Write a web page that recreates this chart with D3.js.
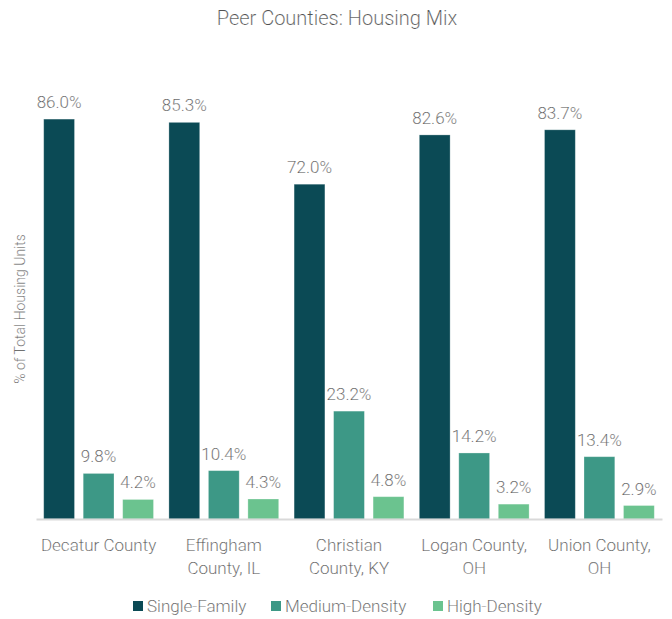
<!DOCTYPE html>
<html>
<head>
<meta charset="utf-8">
<script src="https://cdn.jsdelivr.net/npm/d3@7"></script>
<style>
  html, body { margin: 0; padding: 0; background: #fff; }
  svg { display: block; font-family: "Roboto Light", Roboto, "Open Sans", sans-serif; font-weight: 300; }
  /* thin the regular face slightly so labels read as a lighter weight */
  svg text { stroke: #ffffff; stroke-width: 0.2px; }
</style>
</head>
<body>
<svg id="chart" width="672" height="619"></svg>
<script>
// Housing mix by peer county, share of total housing units (%)
const counties = [
  ["Decatur County"],
  ["Effingham", "County, IL"],
  ["Christian", "County, KY"],
  ["Logan County,", "OH"],
  ["Union County,", "OH"]
];
const seriesNames = ["Single-Family", "Medium-Density", "High-Density"];
const singleFamily  = [86.0, 85.3, 72.0, 82.6, 83.7];
const mediumDensity = [9.8, 10.4, 23.2, 14.2, 13.4];
const highDensity   = [4.2, 4.3, 4.8, 3.2, 2.9];
const colors = ["#0b4a55", "#3d9886", "#6bc38f"];

const svg = d3.select("#chart");
const margin = { top: 54, right: 10, bottom: 100, left: 36 };
const width = 672, height = 619;
const plotW = width - margin.left - margin.right;
const plotH = height - margin.top - margin.bottom;
const textColor = "#505050";

const series = [singleFamily, mediumDensity, highDensity];
const rows = counties.map((c, i) => ({
  name: c.join(" "),
  lines: c,
  values: series.map((s, k) => ({ key: seriesNames[k], value: s[i], k }))
}));

const x0 = d3.scaleBand().domain(rows.map(d => d.name)).range([0, plotW]).padding(0);
const x1 = d3.scaleBand().domain(seriesNames).range([0, x0.bandwidth()])
  .paddingInner(0.22).paddingOuter(0.195);
const y = d3.scaleLinear().domain([0, 100]).range([plotH, 0]);

const g = svg.append("g").attr("transform", `translate(${margin.left},${margin.top})`);

// Title
svg.append("text")
  .attr("x", width / 2 + 1).attr("y", 25)
  .attr("text-anchor", "middle")
  .attr("font-size", 20).attr("fill", textColor)
  .text("Peer Counties: Housing Mix");

// Y axis title
svg.append("text")
  .attr("transform", `translate(25, 309) rotate(-90)`)
  .attr("text-anchor", "middle")
  .attr("font-size", 14).attr("fill", textColor)
  .text("% of Total Housing Units");

const groups = g.selectAll(".grp").data(rows).join("g")
  .attr("class", "grp")
  .attr("transform", d => `translate(${x0(d.name)},0)`);

groups.selectAll("rect").data(d => d.values).join("rect")
  .attr("x", d => x1(d.key))
  .attr("y", d => y(d.value))
  .attr("width", x1.bandwidth())
  .attr("height", d => y(0) - y(d.value))
  .attr("fill", d => colors[d.k])
  .attr("stroke", "#ffffff").attr("stroke-opacity", 0.35).attr("stroke-width", 0.8);

groups.selectAll("text.val").data(d => d.values).join("text")
  .attr("class", "val")
  .attr("x", d => x1(d.key) + x1.bandwidth() / 2)
  .attr("y", d => y(d.value) - 11)
  .attr("text-anchor", "middle")
  .attr("font-size", 17).attr("fill", textColor)
  .text(d => d.value.toFixed(1) + "%");

// Baseline axis
const xAxis = d3.axisBottom(x0).tickSize(0).tickFormat("");
const ax = g.append("g").attr("transform", `translate(0,${plotH})`).call(xAxis);
ax.select(".domain").attr("stroke", "#d9d9d9").attr("stroke-width", 2);

// Category labels (wrapped)
groups.append("text")
  .attr("text-anchor", "middle")
  .attr("font-size", 17).attr("fill", textColor)
  .attr("transform", `translate(${x0.bandwidth() / 2},${plotH + 32})`)
  .selectAll("tspan").data(d => d.lines).join("tspan")
  .attr("x", 0)
  .attr("dy", (d, i) => i === 0 ? 0 : 23)
  .text(d => d);

// Legend
const legendX = [133, 271, 433];
const legend = svg.append("g").attr("transform", "translate(0,606)");
const li = legend.selectAll("g").data(seriesNames).join("g")
  .attr("transform", (d, i) => `translate(${legendX[i]},0)`);
li.append("rect").attr("x", 0).attr("y", -5).attr("width", 10).attr("height", 10)
  .attr("fill", (d, i) => colors[i]);
li.append("text").attr("x", 14).attr("y", 6)
  .attr("font-size", 17).attr("fill", textColor)
  .text(d => d);
</script>
</body>
</html>
